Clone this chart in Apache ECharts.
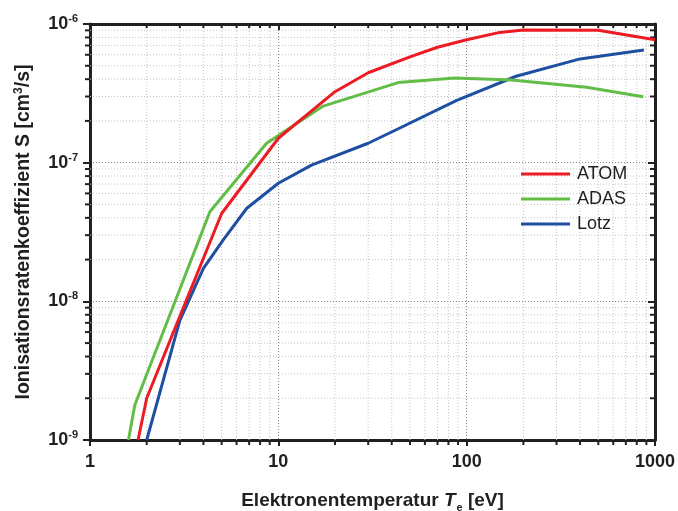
<!DOCTYPE html>
<html><head><meta charset="utf-8">
<script src="https://cdn.jsdelivr.net/npm/echarts@6/dist/echarts.min.js"></script>
<style>html,body{margin:0;padding:0;background:#fff}#c{width:678px;height:511px}</style>
</head><body><div id="c"></div>
<script>
// Data
const atomT = [1.8, 2.0, 3.0, 5.0, 10, 20, 30, 50, 70, 100, 150, 200, 500, 1000];
const atomS = [1e-9, 2.0e-9, 7.8e-9, 4.3e-8, 1.5e-7, 3.25e-7, 4.45e-7, 5.8e-7, 6.8e-7, 7.7e-7, 8.7e-7, 9.05e-7, 9.0e-7, 7.7e-7];
const adasT = [1.6, 1.73, 4.33, 8.66, 17.3, 43.3, 86.6, 173, 433, 866];
const adasS = [1e-9, 1.79e-9, 4.43e-8, 1.38e-7, 2.56e-7, 3.78e-7, 4.08e-7, 3.95e-7, 3.5e-7, 2.99e-7];
const lotzT = [2.0, 3.0, 4.0, 5.1, 6.8, 10, 15, 30, 42, 88, 183, 400, 873];
const lotzS = [1e-9, 7.3e-9, 1.73e-8, 2.77e-8, 4.69e-8, 7.1e-8, 9.6e-8, 1.38e-7, 1.72e-7, 2.8e-7, 4.2e-7, 5.6e-7, 6.5e-7];
const xMinor = [2,3,4,5,6,7,8,9,20,30,40,50,60,70,80,90,200,300,400,500,600,700,800,900];
const yMinor = [2e-9,3e-9,4e-9,5e-9,6e-9,7e-9,8e-9,9e-9,2e-8,3e-8,4e-8,5e-8,6e-8,7e-8,8e-8,9e-8,2e-7,3e-7,4e-7,5e-7,6e-7,7e-7,8e-7,9e-7];
const X_MIN = 1, X_MAX = 1000, Y_MIN = 1e-9, Y_MAX = 1e-6;
const names = ['ATOM', 'ADAS', 'Lotz'];
const colors = ['#ED1C24', '#62BD46', '#1F4FA0'];

const FONT = 'Liberation Sans, Arial, sans-serif';
const INK = '#231f20';
const zip = (a, b) => a.map((v, i) => [v, b[i]]);

const chart = echarts.init(document.getElementById('c'), null, {renderer: 'canvas'});

function minorX(params, api) {
  const v = api.value(0);
  const b = api.coord([v, Y_MIN]);
  const t = api.coord([v, Y_MAX]);
  return {type: 'group', children: [
    {type: 'line', shape: {x1: b[0], y1: b[1], x2: t[0], y2: t[1]}, style: {stroke: '#c4c4c4', lineWidth: 1, lineDash: [1, 2]}, z2: 0},
    {type: 'line', shape: {x1: b[0], y1: b[1], x2: b[0], y2: b[1] + 5}, style: {stroke: INK, lineWidth: 2}},
    {type: 'line', shape: {x1: t[0], y1: t[1], x2: t[0], y2: t[1] + 4}, style: {stroke: INK, lineWidth: 2}}
  ]};
}
function minorY(params, api) {
  const v = api.value(1);
  const l = api.coord([X_MIN, v]);
  const r = api.coord([X_MAX, v]);
  return {type: 'group', children: [
    {type: 'line', shape: {x1: l[0], y1: l[1], x2: r[0], y2: r[1]}, style: {stroke: '#c4c4c4', lineWidth: 1, lineDash: [1, 2]}},
    {type: 'line', shape: {x1: l[0] - 5, y1: l[1], x2: l[0], y2: l[1]}, style: {stroke: INK, lineWidth: 2}},
    {type: 'line', shape: {x1: r[0] - 5, y1: r[1], x2: r[0], y2: r[1]}, style: {stroke: INK, lineWidth: 2}}
  ]};
}

const supRich = {
  b: {fontFamily: FONT, fontWeight: 'bold', fontSize: 18, color: INK},
  s: {fontFamily: FONT, fontWeight: 'bold', fontSize: 11, color: INK, padding: [0, 0, 10, 0]}
};

const axisCommon = {
  type: 'log', logBase: 10,
  axisLine: {show: true, onZero: false, lineStyle: {color: INK, width: 3}},
  splitLine: {show: false}, minorTick: {show: false}
};

const option = {
  backgroundColor: '#fff',
  animation: false,
  grid: {left: 90, right: 23, top: 24, bottom: 71, containLabel: false, outerBoundsMode: 'none'},
  legend: {
    left: 516, top: 160, orient: 'vertical', itemGap: 7,
    icon: 'rect', itemWidth: 49, itemHeight: 3,
    textStyle: {fontFamily: FONT, fontSize: 18, color: INK, padding: [0, 0, 0, 2]},
    data: names
  },
  xAxis: [
    Object.assign({}, axisCommon, {
      position: 'bottom', min: X_MIN, max: X_MAX, splitNumber: 3,
      axisTick: {show: true, inside: false, length: 6, lineStyle: {color: INK, width: 2}},
      axisLabel: {margin: 13, fontFamily: FONT, fontWeight: 'bold', fontSize: 18, color: INK,
        formatter: v => String(Math.round(v))},
      splitLine: {show: true, lineStyle: {color: '#8a8a8a', width: 1, type: [1, 2]}},
      name: '{b|Elektronentemperatur }{i|T}{sub|e}{b| [eV]}',
      nameLocation: 'middle', nameGap: 48,
      nameTextStyle: {rich: {
        b: {fontFamily: FONT, fontWeight: 'bold', fontSize: 19, color: INK},
        i: {fontFamily: FONT, fontWeight: 'bold', fontStyle: 'italic', fontSize: 19, color: INK},
        sub: {fontFamily: FONT, fontWeight: 'bold', fontSize: 11, color: INK, padding: [14, 0, 0, 1]}
      }}
    }),
    Object.assign({}, axisCommon, {
      position: 'top', min: X_MIN, max: X_MAX, splitNumber: 3,
      axisTick: {show: true, inside: true, length: 6, lineStyle: {color: INK, width: 2}},
      axisLabel: {show: false}
    })
  ],
  yAxis: [
    Object.assign({}, axisCommon, {
      position: 'left', min: Y_MIN, max: Y_MAX, splitNumber: 3,
      axisTick: {show: true, inside: false, length: 7, lineStyle: {color: INK, width: 2}},
      axisLabel: {margin: 12, formatter: v => '{b|10}{s|' + Math.round(Math.log10(v)) + '}', rich: supRich},
      splitLine: {show: true, lineStyle: {color: '#8a8a8a', width: 1, type: [1, 2]}},
      name: '{b|Ionisationsratenkoeffizient }{i|S}{b| [cm}{sup|3}{b|/s]}',
      nameLocation: 'middle', nameRotate: 90, nameGap: 55,
      nameTextStyle: {rich: {
        b: {fontFamily: FONT, fontWeight: 'bold', fontSize: 19.5, color: INK},
        i: {fontFamily: FONT, fontWeight: 'bold', fontSize: 19.5, color: INK},
        sup: {fontFamily: FONT, fontWeight: 'bold', fontSize: 12, color: INK, padding: [0, 0, 10, 0]}
      }}
    }),
    Object.assign({}, axisCommon, {
      position: 'right', min: Y_MIN, max: Y_MAX, splitNumber: 3,
      axisTick: {show: true, inside: true, length: 7, lineStyle: {color: INK, width: 2}},
      axisLabel: {show: false}
    })
  ],
  series: [
    {type: 'custom', name: 'xminor', coordinateSystem: 'cartesian2d', xAxisIndex: 0, yAxisIndex: 0,
      renderItem: minorX, data: xMinor.map(v => [v, Y_MIN]), silent: true, z: 1, clip: false},
    {type: 'custom', name: 'yminor', coordinateSystem: 'cartesian2d', xAxisIndex: 0, yAxisIndex: 0,
      renderItem: minorY, data: yMinor.map(v => [X_MIN, v]), silent: true, z: 1, clip: false},
    {type: 'line', name: names[0], data: zip(atomT, atomS), showSymbol: false, symbol: 'none',
      lineStyle: {color: colors[0], width: 3}, itemStyle: {color: colors[0]}, z: 5},
    {type: 'line', name: names[1], data: zip(adasT, adasS), showSymbol: false, symbol: 'none',
      lineStyle: {color: colors[1], width: 3}, itemStyle: {color: colors[1]}, z: 4},
    {type: 'line', name: names[2], data: zip(lotzT, lotzS), showSymbol: false, symbol: 'none',
      lineStyle: {color: colors[2], width: 3}, itemStyle: {color: colors[2]}, z: 3}
  ]
};
chart.setOption(option);
</script></body></html>
